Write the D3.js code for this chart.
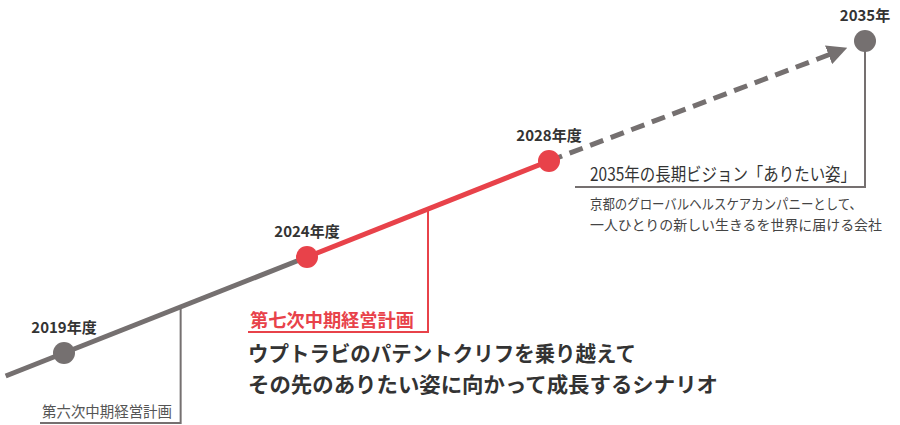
<!DOCTYPE html>
<html><head><meta charset="utf-8">
<script src="https://cdn.jsdelivr.net/npm/d3@7"></script>
<style>body{margin:0;background:#fff}text{font-family:"Noto Sans CJK JP","Noto Sans",sans-serif}</style>
</head><body>
<svg id="c" width="900" height="425"></svg>
<script>
// milestones
const years = [2019, 2024, 2028, 2035];
const labels = ["2019年度", "2024年度", "2028年度", "2035年"];
const progress = [0, 1, 2, 3.25]; // relative level of the path at each milestone
const startYear = 2017.8;

const gray = "#757070", red = "#e8424a", dark = "#333";
const svg = d3.select("#c");

const x = d3.scaleLinear().domain(years).range([64, 307, 549, 865]);
const y = d3.scaleLinear().domain([0, 3.25]).range([353, 41]);
const lvl = d3.scaleLinear().domain(years).range(progress);
const px = yr => x(yr), py = yr => y(lvl(yr));

// gray solid segment up to 2024
svg.append("line").attr("x1", px(startYear)).attr("y1", py(startYear))
  .attr("x2", px(2024)).attr("y2", py(2024))
  .attr("stroke", gray).attr("stroke-width", 5);
// red segment 2024-2028
svg.append("line").attr("x1", px(2024)).attr("y1", py(2024))
  .attr("x2", px(2028)).attr("y2", py(2028))
  .attr("stroke", red).attr("stroke-width", 5);
// dashed arrow 2028-2035
svg.append("defs").append("marker").attr("id", "ar").attr("viewBox", "0 0 10 10")
  .attr("refX", 5).attr("refY", 5).attr("markerWidth", 4).attr("markerHeight", 4)
  .attr("orient", "auto").append("path").attr("d", "M0,0L10,5L0,10z").attr("fill", gray);
const endYr = 2034.4;
svg.append("line").attr("x1", px(2028)).attr("y1", py(2028))
  .attr("x2", px(endYr)).attr("y2", py(endYr))
  .attr("stroke", gray).attr("stroke-width", 5).attr("stroke-dasharray", "14,8")
  .attr("marker-end", "url(#ar)");

// brackets
function bracket(xv, yTop, yBot, xLeft, col, w) {
  svg.append("path").attr("d", `M${xv},${yTop}V${yBot}H${xLeft}`)
    .attr("fill", "none").attr("stroke", col).attr("stroke-width", w);
}
bracket(px(2021.4), py(2021.4), 423, 40, gray, 2);
bracket(px(2026.0), py(2026.0), 332, 248, red, 2);
bracket(px(2035), py(2035), 187, 575, gray, 2);

// dots
svg.selectAll("circle").data(years).join("circle")
  .attr("cx", d => px(d)).attr("cy", d => py(d)).attr("r", 11)
  .attr("fill", d => (d === 2024 || d === 2028) ? red : gray);

// milestone labels
svg.selectAll("text.ms").data(years).join("text").attr("class", "ms")
  .attr("x", d => px(d)).attr("y", (d, i) => py(d) - 20)
  .attr("text-anchor", "middle").attr("font-size", 15).attr("font-weight", "bold")
  .attr("fill", dark).text((d, i) => labels[i]);

function t(xp, yp, s, size, col, weight, len) {
  const e = svg.append("text").attr("x", xp).attr("y", yp).attr("font-size", size)
    .attr("fill", col).attr("font-weight", weight || "normal").text(s);
  if (len) e.attr("textLength", len).attr("lengthAdjust", "spacingAndGlyphs");
}
t(42, 417, "第六次中期経営計画", 15, "#555", null, 130);
t(250, 327, "第七次中期経営計画", 18, red, "bold", 164);
t(248, 361, "ウプトラビのパテントクリフを乗り越えて", 21, dark, "bold", 388);
t(248, 392, "その先のありたい姿に向かって成長するシナリオ", 21, dark, "bold", 470);
t(590, 181, "2035年の長期ビジョン「ありたい姿」", 18, dark, null, 266);
t(590, 209, "京都のグローバルヘルスケアカンパニーとして、", 14, "#444", null, 272);
t(590, 230, "一人ひとりの新しい生きるを世界に届ける会社", 14, "#444", null, 292);
</script>
</body></html>
